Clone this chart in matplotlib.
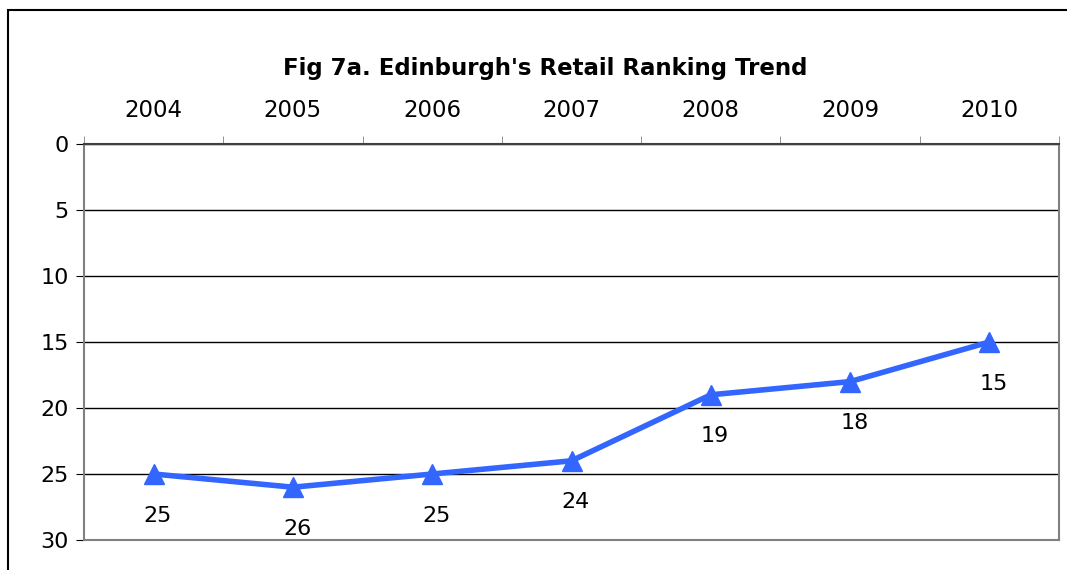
import matplotlib.pyplot as plt
import numpy as np
from matplotlib.patches import Rectangle

years = ["2004", "2005", "2006", "2007", "2008", "2009", "2010"]
ranking = [25, 26, 25, 24, 19, 18, 15]

fig = plt.figure(figsize=(10.67, 5.7), dpi=100)
ax = fig.add_axes([84 / 1067, 30 / 570, 975 / 1067, 396 / 570])

# cadre exterieur du graphique
fig.patches.append(Rectangle((8 / 1067, -0.1), 1.2, 0.1 + 560 / 570, transform=fig.transFigure,
                             fill=False, edgecolor="black", linewidth=1.5))

x = np.arange(len(years))
ax.plot(x, ranking, color="#3366FF", linewidth=4, marker="^", markersize=14, zorder=3)
for xi, v in zip(x, ranking):
    ax.annotate(str(v), (xi, v), xytext=(3, -30), textcoords="offset points",
                ha="center", va="center", fontsize=16)

ax.set_xlim(-0.5, len(years) - 0.5)
ax.set_ylim(30, 0)
ax.set_yticks(range(0, 31, 5))
ax.yaxis.grid(True, color="black", linewidth=1)
ax.set_axisbelow(True)

ax.xaxis.tick_top()
ax.set_xticks(x)
ax.set_xticklabels(years)
ax.set_xticks(np.arange(-0.5, len(years)), minor=True)
ax.tick_params(axis="x", which="major", length=0, pad=16, labelsize=16.5)
ax.tick_params(axis="x", which="minor", length=6, color="#808080")
ax.tick_params(axis="y", length=6, labelsize=16, pad=5, color="black")

for s in ["left", "right", "bottom"]:
    ax.spines[s].set_color("#808080")
    ax.spines[s].set_linewidth(1.5)
ax.spines["top"].set_color("#404040")
ax.spines["top"].set_linewidth(1.5)

fig.text(545 / 1067, 1 - 69 / 570, "Fig 7a. Edinburgh's Retail Ranking Trend",
         ha="center", va="center", fontsize=16.5, fontweight="bold")

fig.savefig("out.png", dpi=100)
